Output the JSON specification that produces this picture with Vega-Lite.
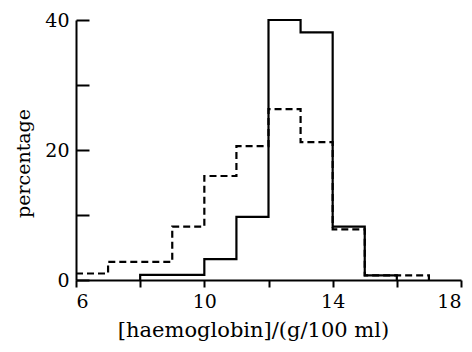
{
  "$schema": "https://vega.github.io/schema/vega-lite/v6.json",
  "width": 385,
  "height": 260,
  "autosize": {"type": "none"},
  "padding": {"left": 76, "top": 20, "right": 11, "bottom": 72},
  "background": "white",
  "config": {
    "view": {"stroke": null},
    "font": "DejaVu Serif",
    "axis": {"domainColor": "black", "domainWidth": 2, "tickColor": "black", "tickWidth": 2, "grid": false, "labelColor": "black", "titleColor": "black", "labelFont": "DejaVu Serif", "titleFont": "DejaVu Serif", "labelFontSize": 19, "titleFontSize": 19, "titleFontWeight": "normal"}
  },
  "data": {"values": [
    {"x": 8, "y": 0, "s": "a"},
    {"x": 8, "y": 0.8, "s": "a"},
    {"x": 10, "y": 3.2, "s": "a"},
    {"x": 11, "y": 9.7, "s": "a"},
    {"x": 12, "y": 40, "s": "a"},
    {"x": 13, "y": 38.1, "s": "a"},
    {"x": 14, "y": 8.2, "s": "a"},
    {"x": 15, "y": 0.7, "s": "a"},
    {"x": 16, "y": 0, "s": "a"},
    {"x": 6, "y": 1.0, "s": "b"},
    {"x": 7, "y": 2.8, "s": "b"},
    {"x": 9, "y": 8.2, "s": "b"},
    {"x": 10, "y": 16.0, "s": "b"},
    {"x": 11, "y": 20.6, "s": "b"},
    {"x": 12, "y": 26.3, "s": "b"},
    {"x": 13, "y": 21.2, "s": "b"},
    {"x": 14, "y": 7.8, "s": "b"},
    {"x": 15, "y": 0.7, "s": "b"},
    {"x": 17, "y": 0, "s": "b"}
  ]},
  "resolve": {"axis": {"y": "independent"}},
  "layer": [
    {
      "mark": {"type": "line", "interpolate": "step-after", "color": "black", "strokeWidth": 2.2},
      "encoding": {
        "x": {"field": "x", "type": "quantitative", "scale": {"domain": [6, 18], "nice": false, "zero": false},
          "axis": {"title": "[haemoglobin]/(g/100 ml)", "values": [6, 8, 10, 12, 14, 16, 18], "labelExpr": "datum.value % 4 == 2 ? datum.label : ''", "tickSize": 7, "labelPadding": 5, "titleX": 177, "titleY": 56, "titleAlign": "center", "titleBaseline": "alphabetic", "titleFontSize": 21}},
        "y": {"field": "y", "type": "quantitative", "scale": {"domain": [0, 40], "nice": false},
          "axis": {"title": "percentage", "values": [0, 20, 40], "ticks": false, "labelPadding": 7, "titleX": -53, "titleY": 143, "titleAlign": "center", "titleBaseline": "middle"}},
        "detail": {"field": "s"},
        "strokeDash": {"field": "s", "type": "nominal", "scale": {"domain": ["a", "b"], "range": [[1, 0], [7, 4]]}, "legend": null}
      }
    },
    {
      "mark": {"type": "line", "interpolate": "step-after", "color": "black", "strokeWidth": 2.2, "opacity": 0},
      "encoding": {
        "x": {"field": "x", "type": "quantitative"},
        "y": {"field": "y", "type": "quantitative",
          "axis": {"orient": "right", "offset": -385, "title": null, "values": [0, 10, 20, 30, 40], "labels": false, "domain": false, "tickSize": 13}},
        "detail": {"field": "s"}
      }
    }
  ]
}
